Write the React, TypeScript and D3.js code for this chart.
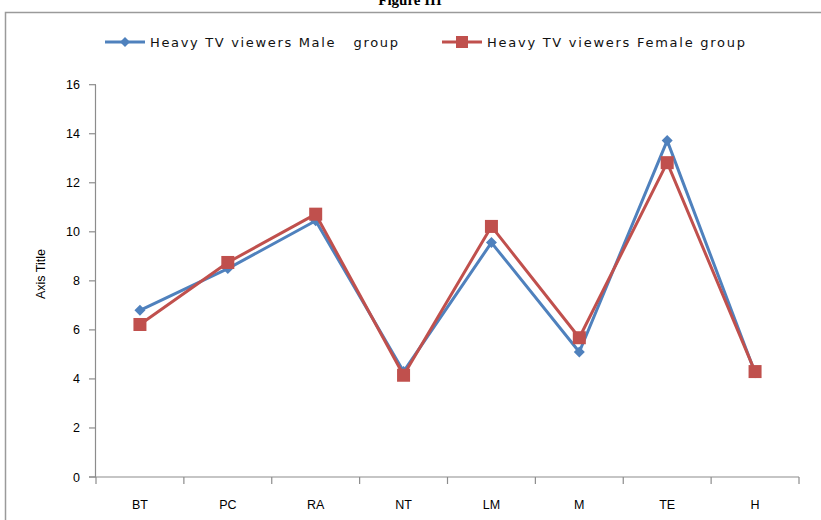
import React from "react";
import * as d3 from "d3";

const categories = ["BT", "PC", "RA", "NT", "LM", "M", "TE", "H"];
const maleValues = [6.8, 8.5, 10.45, 4.3, 9.56, 5.1, 13.72, 4.25];
const femaleValues = [6.22, 8.75, 10.72, 4.15, 10.22, 5.68, 12.82, 4.3];
const yTicks = [0, 2, 4, 6, 8, 10, 12, 14, 16];
const seriesNames = ["Heavy TV viewers Male   group", "Heavy TV viewers Female group"];

const W = 821, H = 520;
const left = 96, right = 799, top = 84.7, bottom = 477;
const font = "'Liberation Sans', Arial, sans-serif";
const BLUE = "#4F81BD", RED = "#C0504D";

export default function App() {
  const x = d3.scaleBand<string>().domain(categories).range([left, right]);
  const y = d3.scaleLinear().domain([0, 16]).range([bottom, top]);
  const cx = (c: string) => (x(c) as number) + x.bandwidth() / 2;
  const line = d3.line<number>().x((_, i) => cx(categories[i])).y((v) => y(v));
  const diamond = (px: number, py: number, r: number) =>
    `M${px},${py - r}L${px + r},${py}L${px},${py + r}L${px - r},${py}Z`;

  return (
    <svg width={W} height={H} style={{ position: "absolute", left: 0, top: 0, background: "#fff" }}>
      <rect x={0} y={0} width={W} height={H} fill="#fff" />
      <text x={410} y={5} textAnchor="middle" fontFamily="'Liberation Serif', serif" fontWeight="bold" fontSize={15}>Figure III</text>
      <path d={`M5.5,${H}V12.5H${W}`} fill="none" stroke="#9a9a9a" strokeWidth={1.5} />

      {/* legend */}
      <g fontFamily="'DejaVu Sans', sans-serif" fontSize={13} fill="#111">
        <line x1={105} x2={145} y1={42} y2={42} stroke={BLUE} strokeWidth={3} />
        <path d={diamond(125, 42, 5)} fill={BLUE} />
        <text x={150} y={46.5} style={{ whiteSpace: "pre" }} textLength={248} lengthAdjust="spacing">{seriesNames[0]}</text>
        <line x1={442} x2={482} y1={42} y2={42} stroke={RED} strokeWidth={3} />
        <rect x={456} y={36} width={12} height={12} fill={RED} />
        <text x={487} y={46.5} textLength={258} lengthAdjust="spacing">{seriesNames[1]}</text>
      </g>

      {/* y axis */}
      <line x1={left - 0.5} x2={left - 0.5} y1={top} y2={bottom} stroke="#8c8c8c" strokeWidth={1.2} />
      {yTicks.map((t) => (
        <g key={t}>
          <line x1={left - 7} x2={left} y1={y(t)} y2={y(t)} stroke="#8c8c8c" strokeWidth={1.2} />
          <text x={80} y={y(t) + 4.5} textAnchor="end" fontFamily={font} fontSize={12.5}>{t}</text>
        </g>
      ))}
      <text transform={`translate(45,274) rotate(-90)`} textAnchor="middle" fontFamily={font} fontSize={12.5}>Axis Title</text>

      {/* x axis */}
      <line x1={left - 7} x2={right} y1={bottom} y2={bottom} stroke="#8c8c8c" strokeWidth={1.2} />
      {[...categories.map((c) => x(c) as number), right].map((px, i) => (
        <line key={i} x1={px} x2={px} y1={bottom} y2={bottom + 7} stroke="#8c8c8c" strokeWidth={1.2} />
      ))}
      {categories.map((c) => (
        <text key={c} x={cx(c)} y={509} textAnchor="middle" fontFamily={font} fontSize={12.5}>{c}</text>
      ))}

      {/* series */}
      <path d={line(maleValues) as string} fill="none" stroke={BLUE} strokeWidth={3} strokeLinejoin="round" />
      {maleValues.map((v, i) => (
        <path key={i} d={diamond(cx(categories[i]), y(v), 5.5)} fill={BLUE} />
      ))}
      <path d={line(femaleValues) as string} fill="none" stroke={RED} strokeWidth={3} strokeLinejoin="round" />
      {femaleValues.map((v, i) => (
        <rect key={i} x={cx(categories[i]) - 6.5} y={y(v) - 6.5} width={13} height={13} fill={RED} />
      ))}
    </svg>
  );
}
